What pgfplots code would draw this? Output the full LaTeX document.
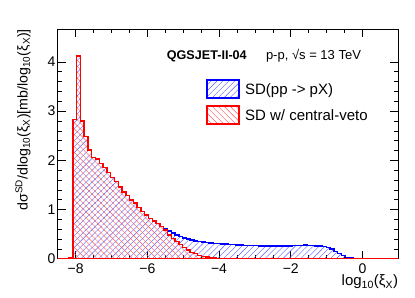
\documentclass[border=0pt]{standalone}
\usepackage{fontspec}
\setmainfont{Liberation Sans}
\usepackage{pgfplots}
\usepackage{pgfplotstable}
\pgfplotsset{compat=1.18}
\usetikzlibrary{patterns.meta}

\pgfplotstableread{
x b r
-8.500 0 0
-8.394 0 0
-8.289 0 0
-8.183 0.02 0.02
-8.078 2.83 2.83
-7.972 4.12 4.12
-7.867 2.80 2.80
-7.761 2.48 2.48
-7.656 2.21 2.21
-7.550 2.06 2.06
-7.444 2.03 2.03
-7.339 1.94 1.94
-7.233 1.85 1.85
-7.128 1.75 1.75
-7.022 1.65 1.65
-6.917 1.57 1.57
-6.811 1.46 1.46
-6.706 1.36 1.36
-6.600 1.29 1.29
-6.494 1.19 1.19
-6.389 1.13 1.13
-6.283 1.04 1.04
-6.178 0.96 0.96
-6.072 0.89 0.89
-5.967 0.82 0.82
-5.861 0.77 0.77
-5.756 0.71 0.71
-5.650 0.655 0.65
-5.544 0.60 0.58
-5.439 0.56 0.48
-5.333 0.52 0.41
-5.228 0.48 0.35
-5.122 0.45 0.29
-5.017 0.42 0.23
-4.911 0.40 0.18
-4.806 0.38 0.13
-4.700 0.36 0.10
-4.594 0.35 0.07
-4.489 0.34 0.05
-4.383 0.33 0.035
-4.278 0.32 0.025
-4.172 0.315 0.015
-4.067 0.31 0.01
-3.961 0.30 0.005
-3.856 0.295 0
-3.750 0.29 0
-3.644 0.285 0
-3.539 0.28 0
-3.433 0.275 0
-3.328 0.27 0
-3.222 0.27 0
-3.117 0.265 0
-3.011 0.265 0
-2.906 0.26 0
-2.800 0.26 0
-2.694 0.26 0
-2.589 0.26 0
-2.483 0.255 0
-2.378 0.255 0
-2.272 0.26 0
-2.167 0.26 0
-2.061 0.26 0
-1.956 0.265 0
-1.850 0.27 0
-1.744 0.27 0
-1.639 0.275 0
-1.533 0.27 0
-1.428 0.265 0
-1.322 0.26 0
-1.217 0.255 0
-1.111 0.245 0
-1.006 0.23 0
-0.900 0.20 0
-0.794 0.15 0
-0.689 0.10 0
-0.583 0.06 0
-0.478 0.03 0
-0.372 0.012 0
-0.267 0.005 0
-0.161 0 0
1.000 0 0
}\histdata

\begin{document}
\begin{tikzpicture}
\useasboundingbox (-57.7bp,-39.3bp) rectangle (357.3bp,258.7bp);
\begin{axis}[
  at={(0,0)}, anchor=south west,
  scale only axis, width=340.6bp, height=229.7bp,
  xmin=-8.5, xmax=1, ymin=0, ymax=4.67,
  clip=false,
  axis line style={line width=0.8bp},
  tick align=inside,
  major tick length=8bp, minor tick length=4bp,
  tick style={black, line width=0.6bp},
  xtick={-8,-6,-4,-2,0},
  xticklabels={−8,−6,−4,−2,0},
  minor x tick num=3,
  ytick={0,1,2,3,4},
  yticklabels={0,1,2,3,4},
  minor y tick num=4,
  ticklabel style={font=\fontsize{14bp}{16bp}\selectfont},
  xticklabel style={inner sep=0pt, yshift=-5bp},
  yticklabel style={inner sep=2pt},
  xlabel={log\textsubscript{10}(ξ\textsubscript{X})},
  xlabel style={at={(axis description cs:1,0)}, anchor=north east, inner sep=0pt, yshift=-16bp, font=\fontsize{15bp}{18bp}\selectfont},
  ylabel={dσ\textsuperscript{SD}/dlog\textsubscript{10}(ξ\textsubscript{X})[mb/log\textsubscript{10}(ξ\textsubscript{X})]},
  ylabel style={at={(axis description cs:-0.079,1)}, anchor=south east, inner sep=0pt, font=\fontsize{14.2bp}{17bp}\selectfont},
]
\addplot[const plot, draw=blue, line width=1.4bp,
  pattern={Lines[angle=45,distance=4.2bp,line width=0.4bp]}, pattern color=blue!65]
  table[x=x,y=b] {\histdata} \closedcycle;
\addplot[const plot, draw=red, line width=1.4bp,
  pattern={Lines[angle=-45,distance=4.2bp,line width=0.4bp]}, pattern color=red!65]
  table[x=x,y=r] {\histdata} \closedcycle;
% legend
\draw[blue, line width=1.4bp, pattern={Lines[angle=45,distance=4.2bp,line width=0.4bp]}, pattern color=blue!65]
  (axis description cs:0.4383,0.778) rectangle (axis description cs:0.5323,0.6996);
\draw[red, line width=1.4bp, pattern={Lines[angle=-45,distance=4.2bp,line width=0.4bp]}, pattern color=red!65]
  (axis description cs:0.4383,0.6648) rectangle (axis description cs:0.5323,0.5864);
\node[anchor=base west, inner sep=0pt, font=\fontsize{15bp}{18bp}\selectfont]
  at (axis description cs:0.5497,0.7153) {SD(pp -> pX)};
\node[anchor=base west, inner sep=0pt, font=\fontsize{15bp}{18bp}\selectfont]
  at (axis description cs:0.5497,0.6021) {SD w/ central-veto};
\node[anchor=base west, inner sep=0pt, font=\bfseries\fontsize{12.6bp}{15bp}\selectfont]
  at (axis description cs:0.32,0.868) {QGSJET-II-04};
\node[anchor=base west, inner sep=0pt, font=\fontsize{13bp}{15bp}\selectfont]
  at (axis description cs:0.611,0.868) {p-p, √s = 13 TeV};
\end{axis}
\end{tikzpicture}
\end{document}
